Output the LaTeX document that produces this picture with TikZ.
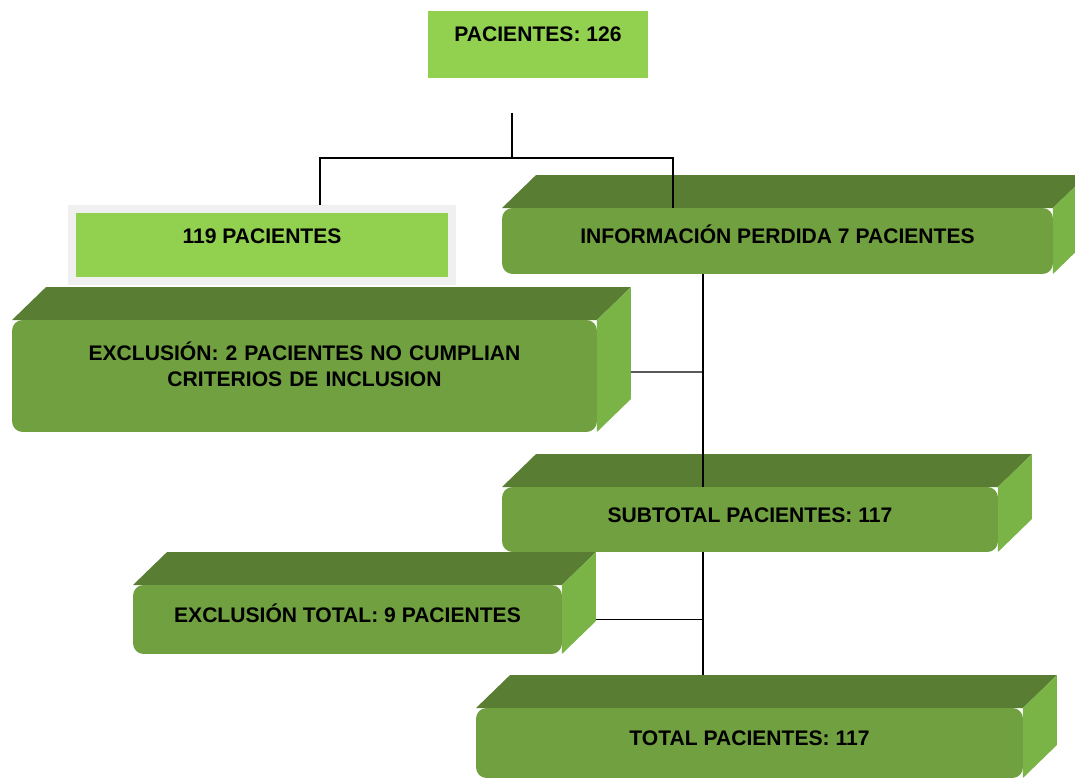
\documentclass[tikz,border=0pt]{standalone}
\usepackage{fontspec}
\setmainfont{Liberation Sans}
\usetikzlibrary{backgrounds}
\definecolor{verdeplano}{RGB}{146,208,80}
\definecolor{verdefrente}{RGB}{112,160,63}
\definecolor{verdetapa}{RGB}{89,125,50}
\definecolor{verdelado}{RGB}{123,180,70}
\definecolor{grismarco}{RGB}{240,240,240}

\tikzset{
  texto/.style={font=\fontsize{12}{14.8}\selectfont\bfseries},
  plana/.style={texto, rectangle, fill=verdeplano, text height=0.3cm, text depth=0.4cm, inner sep=0pt, outer sep=0pt},
  caja/.style={texto, rectangle, rounded corners=6pt, fill=verdefrente, align=center, text height=0.3cm, text depth=0.2cm, inner sep=0pt, outer sep=0pt},
  linea/.style={draw=black, line width=0.7pt}
}

% tapa y lado de una caja
\newcommand{\volumen}[1]{%
  \begin{scope}[on background layer]
    \fill[verdetapa] (#1.north west) -- ([shift={(34,-33)}]#1.north west) -- ([shift={(34,-33)}]#1.north east) -- (#1.north east) -- cycle;
    \fill[verdelado] (#1.north east) -- ([shift={(34,-33)}]#1.north east) -- ([shift={(34,-33)}]#1.south east) -- (#1.south east) -- cycle;
  \end{scope}}

\begin{document}
\begin{tikzpicture}[x=0.02cm, y=-0.02cm]
\clip (0,0) rectangle (1075,780);

% cajas planas
\node[plana, minimum width=4.4cm, minimum height=1.34cm] (pac126) at (538,44.5) {PACIENTES: 126};
\node[plana, draw=grismarco, line width=0.16cm, outer sep=0.08cm, text depth=0.36cm,
      minimum width=7.6cm, minimum height=1.44cm] (p119) at (262,245) {119 PACIENTES};

% cajas con volumen
\node[caja, minimum width=11.02cm, minimum height=1.32cm] (info) at (777.5,241) {INFORMACIÓN PERDIDA 7 PACIENTES};
\volumen{info}
\node[caja, text width=11cm, text depth=0.94cm, minimum width=11.7cm, minimum height=2.24cm] (excl) at (304.5,376)
  {EXCLUSIÓN: 2 PACIENTES NO CUMPLIAN\\CRITERIOS DE INCLUSION};
\volumen{excl}
\node[caja, minimum width=9.92cm, minimum height=1.3cm] (subtotal) at (750,519.5) {SUBTOTAL PACIENTES: 117};
\volumen{subtotal}
\node[caja, minimum width=8.58cm, minimum height=1.38cm] (excltot) at (347.5,619.5) {EXCLUSIÓN TOTAL: 9 PACIENTES};
\volumen{excltot}
\node[caja, minimum width=10.94cm, minimum height=1.4cm] (total) at (749.5,743) {TOTAL PACIENTES: 117};
\volumen{total}

% conectores
\coordinate (arranque) at (512,113);
\coordinate (rama) at (512,158);
\coordinate (eje) at (703,274);
\coordinate (cimatotal) at ([yshift=0.66cm]total.north);
\draw[linea] (arranque) -- (rama);
\draw[linea] ([xshift=1.16cm]p119.north) |- (rama) -| ([xshift=3.42cm]info.north west);
\draw[linea] (info.south -| eje) -- (subtotal.north -| eje);
\draw[linea] ([shift={(34,-4)}]excl.east) -- ([yshift=0.08cm]excl.east -| eje);
\draw[linea] (subtotal.south -| eje) -- (cimatotal -| eje);
\draw[linea] ([xshift=0.68cm]excltot.east) -- (excltot.east -| eje);
\end{tikzpicture}
\end{document}
